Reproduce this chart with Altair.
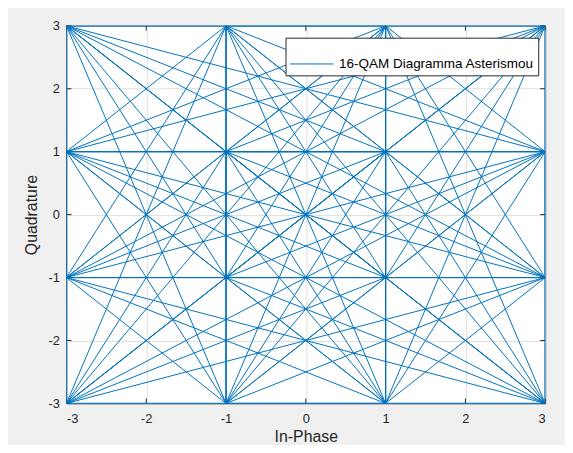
import itertools
import altair as alt
import pandas as pd

# 16-QAM constellation levels (in-phase / quadrature)
levels = [-3, -1, 1, 3]
ticks = [-3, -2, -1, 0, 1, 2, 3]
series_name = "16-QAM Diagramma Asterismou"

points = [(i, q) for q in levels for i in levels]
rows = []
for k, (a, b) in enumerate(itertools.combinations(points, 2)):
    rows.append({"edge": k, "idx": 0, "I": a[0], "Q": a[1], "series": series_name})
    rows.append({"edge": k, "idx": 1, "I": b[0], "Q": b[1], "series": series_name})
df = pd.DataFrame(rows)
tick_df = pd.DataFrame({"t": ticks})

W, H = 483, 381
BLUE = "#0072BD"
DARK = "#262626"

xscale = alt.Scale(domain=[-3, 3], nice=False, zero=False)
yscale = alt.Scale(domain=[-3, 3], nice=False, zero=False)

lines = alt.Chart(df).mark_line(strokeWidth=1, clip=True).encode(
    x=alt.X("I:Q", scale=xscale, title="In-Phase",
            axis=alt.Axis(values=ticks, labelExpr="'' + datum.value", grid=True, ticks=False,
                          domain=False, labelPadding=9, titlePadding=3)),
    y=alt.Y("Q:Q", scale=yscale, title="Quadrature",
            axis=alt.Axis(values=ticks, labelExpr="'' + datum.value", grid=True, ticks=False,
                          domain=False, labelPadding=7, titlePadding=9)),
    detail="edge:N",
    order="idx:Q",
    color=alt.Color("series:N", scale=alt.Scale(range=[BLUE]),
                    legend=alt.Legend(title=None, orient="none", legendX=221, legendY=12,
                                      symbolType="stroke", symbolSize=1936,
                                      symbolStrokeWidth=1, labelFontSize=13.6,
                                      labelFont="Liberation Sans", labelColor="#000000",
                                      labelOffset=5, padding=4, labelLimit=0,
                                      strokeColor=DARK, fillColor="white")),
)

tick_color = DARK
xb = alt.Chart(tick_df).mark_rule(color=tick_color).encode(
    x=alt.X("t:Q", scale=xscale), y=alt.value(H), y2=alt.value(H - 5))
xt = alt.Chart(tick_df).mark_rule(color=tick_color).encode(
    x=alt.X("t:Q", scale=xscale), y=alt.value(0), y2=alt.value(5))
yl = alt.Chart(tick_df).mark_rule(color=tick_color).encode(
    y=alt.Y("t:Q", scale=yscale), x=alt.value(0), x2=alt.value(5))
yr = alt.Chart(tick_df).mark_rule(color=tick_color).encode(
    y=alt.Y("t:Q", scale=yscale), x=alt.value(W), x2=alt.value(W - 5))

chart = alt.layer(xb, xt, yl, yr, lines).properties(
    width=W, height=H,
    autosize=alt.AutoSizeParams(type="none"),
    padding={"left": 59, "top": 16, "right": 20, "bottom": 40},
    background="#f0f0f0",
).configure_view(
    fill="white", stroke=DARK, strokeWidth=1,
).configure_axis(
    labelFont="Liberation Sans", titleFont="Liberation Sans",
    labelFontSize=13, titleFontSize=16, titleFontWeight="normal",
    labelColor=DARK, titleColor=DARK,
    gridColor="#dfdfdf", gridWidth=1,
)

chart.save("out.html", embed_options={"renderer": "svg", "actions": False})
